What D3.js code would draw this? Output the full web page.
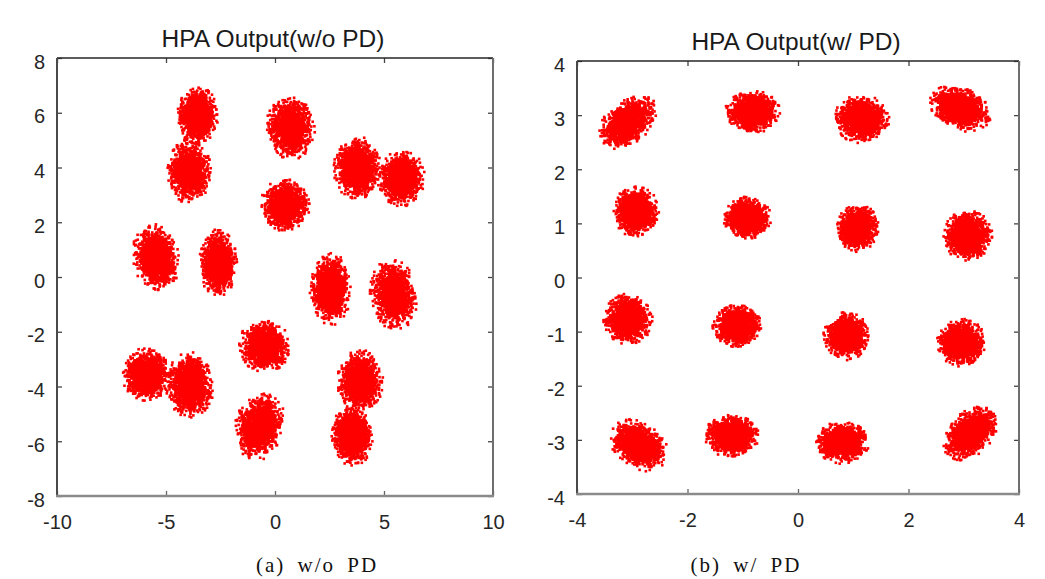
<!DOCTYPE html>
<html><head><meta charset="utf-8">
<script src="https://cdn.jsdelivr.net/npm/d3@7"></script>
<style>body{margin:0;background:#fff}svg{display:block}</style>
</head><body>
<svg id="chart" width="1045" height="579"></svg>
<script>
// ---- texts ----
const leftTitle = "HPA Output(w/o PD)";
const rightTitle = "HPA Output(w/ PD)";
const leftCaption = "(a) w/o PD";
const rightCaption = "(b) w/ PD";

// ---- tick labels ----
const leftXTicks = [-10, -5, 0, 5, 10];
const leftYTicks = [-8, -6, -4, -2, 0, 2, 4, 6, 8];
const rightXTicks = [-4, -2, 0, 2, 4];
const rightYTicks = [-4, -3, -2, -1, 0, 1, 2, 3, 4];

// ---- cluster centres / spreads (w/o PD) ----
const leftCx   = [-3.55, -3.95, 0.70, 0.45, 3.75, 5.80, -5.45, -2.60, 2.55, 5.45, -0.50, -5.90, -3.90, -0.70, 3.90, 3.55];
const leftCy   = [ 5.90,  3.85, 5.45, 2.62, 3.98, 3.60,  0.72,  0.52, -0.45, -0.65, -2.52, -3.55, -3.95, -5.45, -3.80, -5.80];
const leftSx   = [ 0.34,  0.37, 0.42, 0.41, 0.40, 0.40,  0.39,  0.32, 0.34, 0.39, 0.43, 0.40, 0.40, 0.40, 0.38, 0.35];
const leftSy   = [ 0.38,  0.42, 0.42, 0.34, 0.42, 0.37,  0.45,  0.44, 0.48, 0.48, 0.35, 0.35, 0.43, 0.46, 0.42, 0.40];
const leftTilt = [ 0,     0,   -15,    0,    0,    0,    20,     0,    0,   15,    0,    0,    0,   -30,   0,    0];

// ---- cluster centres / spreads (w/ PD) ----
const rightCx   = [-3.08, -0.82, 1.15, 2.93, -2.93, -0.92, 1.07, 3.07, -3.08, -1.10, 0.88, 2.95, -2.88, -1.20, 0.80, 3.12];
const rightCy   = [ 2.87,  3.06, 2.93, 3.12,  1.22,  1.10, 0.92, 0.77, -0.77, -0.90, -1.08, -1.20, -3.10, -2.93, -3.05, -2.88];
const rightSx   = [ 0.22,  0.18, 0.18, 0.21,  0.15,  0.16, 0.14, 0.16,  0.16,  0.16, 0.15, 0.16, 0.21, 0.18, 0.18, 0.21];
const rightSy   = [ 0.14,  0.14, 0.16, 0.14,  0.17,  0.14, 0.16, 0.17,  0.17,  0.14, 0.16, 0.16, 0.15, 0.14, 0.14, 0.14];
const rightTilt = [ 40,    0,    0,   -25,    0,     0,    0,    0,     0,     0,    0,    0,   -35,    0,    0,   45];

const pointsPerCluster = 1500;

const svg = d3.select("#chart");

function panel(cfg) {
  const {x0, x1, y0, y1, xDom, yDom, xTicks, yTicks, title, titleX, titleY, caption, capX,
         cx, cy, sx, sy, tilt, seed} = cfg;
  const x = d3.scaleLinear().domain(xDom).range([x0, x1]);
  const y = d3.scaleLinear().domain(yDom).range([y1, y0]);
  const g = svg.append("g");

  // points: deterministic seeded noise around each read centre (radially truncated)
  const rng = d3.randomLcg(seed);
  const nrm = d3.randomNormal.source(rng)(0, 1);
  const pts = [];
  cx.forEach((c, i) => {
    const a = tilt[i] * Math.PI / 180, ca = Math.cos(a), sa = Math.sin(a);
    for (let k = 0; k < pointsPerCluster; k++) {
      let p, q;
      do { p = nrm(); q = nrm(); } while (p * p + q * q > 2.8 * 2.8);
      const u = p * sx[i], v = q * sy[i];
      pts.push([c + u * ca - v * sa, cy[i] + u * sa + v * ca]);
    }
  });
  g.append("g").selectAll("rect").data(pts).join("rect")
    .attr("x", d => x(d[0]) - 1.3).attr("y", d => y(d[1]) - 1.3)
    .attr("width", 2.6).attr("height", 2.6).attr("fill", "#ff0000");

  // axes (inward ticks on all four sides)
  const font = "'Liberation Sans', Arial, sans-serif";
  const fmt = d => String(d);
  const ax = g.append("g").attr("transform", `translate(0,${y1})`)
    .call(d3.axisBottom(x).tickValues(xTicks).tickSizeInner(-5).tickSizeOuter(0).tickPadding(19).tickFormat(fmt));
  const ay = g.append("g").attr("transform", `translate(${x0},0)`)
    .call(d3.axisLeft(y).tickValues(yTicks).tickSizeInner(-5).tickSizeOuter(0).tickPadding(12).tickFormat(fmt));
  const at = g.append("g").attr("transform", `translate(0,${y0})`)
    .call(d3.axisTop(x).tickValues(xTicks).tickSizeInner(-5).tickSizeOuter(0).tickFormat(""));
  const ar = g.append("g").attr("transform", `translate(${x1},0)`)
    .call(d3.axisRight(y).tickValues(yTicks).tickSizeInner(-5).tickSizeOuter(0).tickFormat(""));
  [ax, ay, at, ar].forEach(a => {
    a.select(".domain").remove();
    a.selectAll("line").attr("stroke", "#444").attr("stroke-width", 1.3);
    a.selectAll("text").attr("font-family", font).attr("font-size", 20).attr("fill", "#262626");
  });
  ay.selectAll("text").attr("dy", "0.5em");
  ax.selectAll("line").attr("stroke", "#666");

  // frame
  g.append("line").attr("x1", x0).attr("x2", x1).attr("y1", y0).attr("y2", y0).attr("stroke", "#262626").attr("stroke-width", 1.3);
  g.append("line").attr("x1", x0).attr("x2", x0).attr("y1", y0).attr("y2", y1).attr("stroke", "#4a4a4a").attr("stroke-width", 2);
  g.append("line").attr("x1", x1).attr("x2", x1).attr("y1", y0).attr("y2", y1).attr("stroke", "#6e6e6e").attr("stroke-width", 2);
  g.append("line").attr("x1", x0 - 1).attr("x2", x1 + 1).attr("y1", y1).attr("y2", y1).attr("stroke", "#8a8a8a").attr("stroke-width", 2.6);

  // title
  g.append("text").attr("x", titleX).attr("y", titleY).attr("text-anchor", "middle")
    .attr("font-family", font).attr("font-size", 24.5).attr("fill", "#1a1a1a").text(title);
  // caption
  g.append("text").attr("x", capX).attr("y", 572).attr("text-anchor", "middle")
    .attr("font-family", "'Liberation Serif', 'Times New Roman', serif").attr("font-size", 21).attr("fill", "#111")
    .attr("letter-spacing", 2).attr("word-spacing", 5)
    .text(caption);
}

panel({x0: 57, x1: 493, y0: 58, y1: 496, xDom: [-10, 10], yDom: [-8, 8],
  xTicks: leftXTicks, yTicks: leftYTicks, title: leftTitle, titleX: 273, titleY: 47,
  caption: leftCaption, capX: 317,
  cx: leftCx, cy: leftCy, sx: leftSx, sy: leftSy, tilt: leftTilt, seed: 0.137});

panel({x0: 577, x1: 1019, y0: 61, y1: 494, xDom: [-4, 4], yDom: [-4, 4],
  xTicks: rightXTicks, yTicks: rightYTicks, title: rightTitle, titleX: 796, titleY: 50,
  caption: rightCaption, capX: 746,
  cx: rightCx, cy: rightCy, sx: rightSx, sy: rightSy, tilt: rightTilt, seed: 0.731});
</script>
</body></html>
